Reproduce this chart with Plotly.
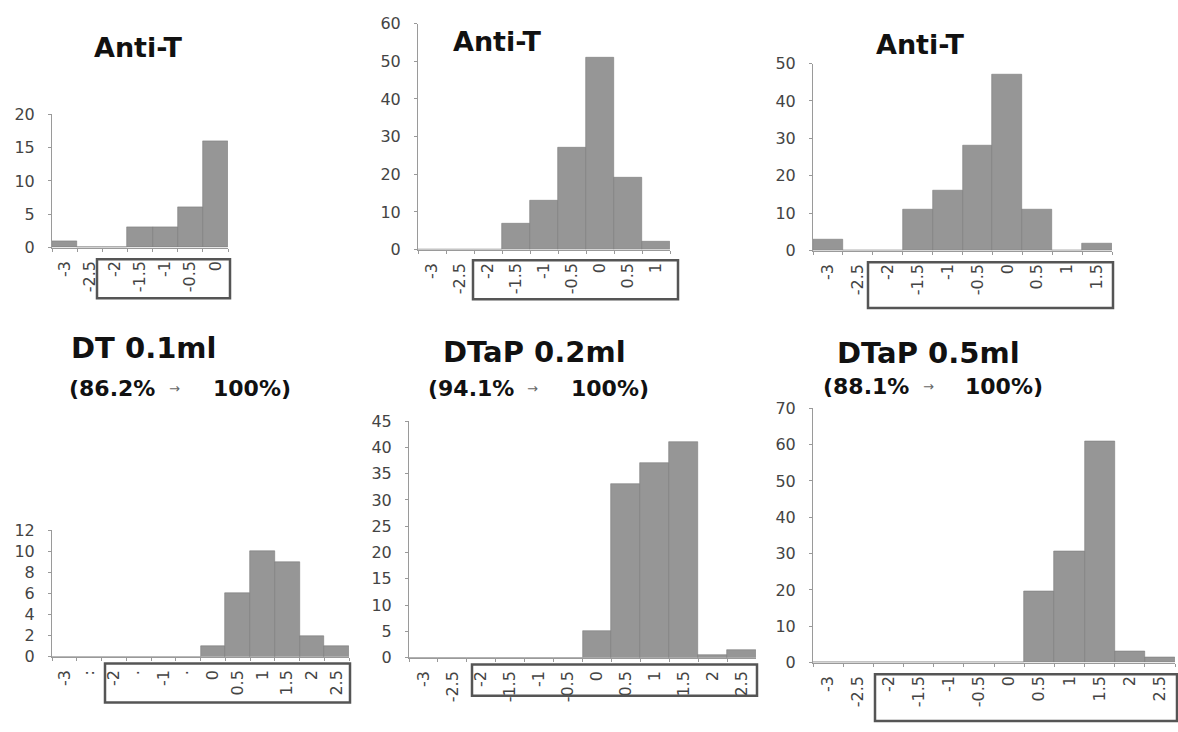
import plotly.graph_objects as go

W, H = 1178, 732

cats_a = ["-3", "-2.5", "-2", "-1.5", "-1", "-0.5", "0"]
vals_a = [1, 0, 0, 3, 3, 6, 16]

cats_b = ["-3", "-2.5", "-2", "-1.5", "-1", "-0.5", "0", "0.5", "1"]
vals_b = [0, 0, 0, 7, 13, 27, 51, 19, 2]

cats_c = ["-3", "-2.5", "-2", "-1.5", "-1", "-0.5", "0", "0.5", "1", "1.5"]
vals_c = [3, 0, 0, 11, 16, 28, 47, 11, 0, 2]

cats_d = ["-3", "-2.5", "-2", "-1.5", "-1", "-0.5", "0", "0.5", "1", "1.5", "2", "2.5"]
labels_d = ["-3", ":", "-2", "·", "-1", "·", "0", "0.5", "1", "1.5", "2", "2.5"]
vals_d = [0, 0, 0, 0, 0, 0, 1, 6, 10, 9, 2, 1]

cats_e = ["-3", "-2.5", "-2", "-1.5", "-1", "-0.5", "0", "0.5", "1", "1.5", "2", "2.5"]
vals_e = [0, 0, 0, 0, 0, 0, 5, 33, 37, 41, 0.6, 1.5]

cats_f = ["-3", "-2.5", "-2", "-1.5", "-1", "-0.5", "0", "0.5", "1", "1.5", "2", "2.5"]
vals_f = [0, 0, 0, 0, 0, 0, 0, 19.5, 30.5, 61, 3, 1.5]

top_title = "Anti-T"
bottom_titles = ["DT 0.1ml", "DTaP 0.2ml", "DTaP 0.5ml"]
before_pct = ["(86.2%", "(94.1%", "(88.1%"]
after_pct = ["100%)", "100%)", "100%)"]

panels = [
    dict(cats=cats_a, vals=vals_a, labels=cats_a, px=(52, 228), py=(108, 245), ymax=20, dtick=5),
    dict(cats=cats_b, vals=vals_b, labels=cats_b, px=(418, 670), py=(15, 247), ymax=60, dtick=10),
    dict(cats=cats_c, vals=vals_c, labels=cats_c, px=(813, 1112), py=(56, 248), ymax=50, dtick=10),
    dict(cats=cats_d, vals=vals_d, labels=labels_d, px=(52, 349), py=(535, 665), ymax=12, dtick=2),
    dict(cats=cats_e, vals=vals_e, labels=cats_e, px=(409, 756), py=(423, 666), ymax=45, dtick=5),
    dict(cats=cats_f, vals=vals_f, labels=cats_f, px=(813, 1175), py=(410, 671), ymax=70, dtick=10),
]

boxes = [(97, 257, 230, 297), (473, 258, 678, 298), (868, 260, 1113, 307),
         (105, 672, 350, 712), (472, 673, 757, 705), (875, 683, 1177, 731)]

fig = go.Figure()
layout = {}
tick_font = dict(family="DejaVu Sans", size=16, color="#444")

for i, p in enumerate(panels, start=1):
    xa = "x" if i == 1 else f"x{i}"
    ya = "y" if i == 1 else f"y{i}"
    fig.add_trace(go.Bar(
        x=p["cats"], y=p["vals"], xaxis=xa, yaxis=ya,
        marker=dict(color="#969696", line=dict(color="#7a7a7a", width=0.6)),
        showlegend=False, hoverinfo="x+y",
    ))
    kx = "xaxis" if i == 1 else f"xaxis{i}"
    ky = "yaxis" if i == 1 else f"yaxis{i}"
    layout[kx] = dict(
        domain=[p["px"][0] / W, p["px"][1] / W], anchor=ya,
        type="category", range=[-0.5, len(p["cats"]) - 0.5],
        tickvals=p["cats"], ticktext=p["labels"], tickangle=-90,
        tickson="boundaries", ticks="outside", ticklen=3, tickcolor="#999",
        showline=True, linecolor="#9a9a9a", linewidth=1,
        showgrid=False, zeroline=False, tickfont=tick_font, ticklabelstandoff=6,
    )
    layout[ky] = dict(
        domain=[1 - p["py"][1] / H, 1 - p["py"][0] / H], anchor=xa,
        range=[0, p["ymax"]], dtick=p["dtick"], ticks="outside", ticklen=3,
        tickcolor="#999", showline=True, linecolor="#9a9a9a", linewidth=1,
        showgrid=False, zeroline=False, tickfont=tick_font, ticklabelstandoff=10,
    )

annotations = []
title_font = dict(family="DejaVu Sans", size=27, color="#111", weight="bold")
for cx, cy in [(138, 40), (497, 33), (920, 36)]:
    annotations.append(dict(text=top_title, x=cx / W, y=1 - cy / H, xref="paper", yref="paper",
                            showarrow=False, xanchor="center", yanchor="middle", font=title_font))

big_font = dict(family="DejaVu Sans", size=29, color="#111", weight="bold")
sub_font = dict(family="DejaVu Sans", size=22, color="#111", weight="bold")
arrow_font = dict(family="DejaVu Sans", size=13, color="#666")
title_pos = [(143, 348), (534, 352), (928, 353)]
sub_pos = [((112, 175, 252), 390), ((471, 532, 610), 390), ((866, 928, 1004), 388)]
for k in range(3):
    tx, ty = title_pos[k]
    annotations.append(dict(text=bottom_titles[k], x=tx / W, y=1 - ty / H, xref="paper", yref="paper",
                            showarrow=False, xanchor="center", yanchor="middle", font=big_font))
    (a, b, c), sy = sub_pos[k]
    annotations.append(dict(text=before_pct[k], x=a / W, y=1 - sy / H, xref="paper", yref="paper",
                            showarrow=False, xanchor="center", yanchor="middle", font=sub_font))
    annotations.append(dict(text="→", x=b / W, y=1 - sy / H, xref="paper", yref="paper",
                            showarrow=False, xanchor="center", yanchor="middle", font=arrow_font))
    annotations.append(dict(text=after_pct[k], x=c / W, y=1 - sy / H, xref="paper", yref="paper",
                            showarrow=False, xanchor="center", yanchor="middle", font=sub_font))

shapes = []
for (x0, y0, x1, y1) in boxes:
    shapes.append(dict(type="rect", xref="paper", yref="paper",
                       x0=x0 / W, x1=x1 / W, y0=1 - y1 / H, y1=1 - y0 / H,
                       line=dict(color="#555", width=2.5), fillcolor="rgba(0,0,0,0)"))

fig.update_layout(
    width=W, height=H, margin=dict(l=0, r=0, t=0, b=0),
    paper_bgcolor="white", plot_bgcolor="white", bargap=0,
    annotations=annotations, shapes=shapes, **layout,
)

fig.write_html("out.html", config={"displayModeBar": False},
               post_script="document.body.style.margin='0';document.body.style.overflow='hidden';")
